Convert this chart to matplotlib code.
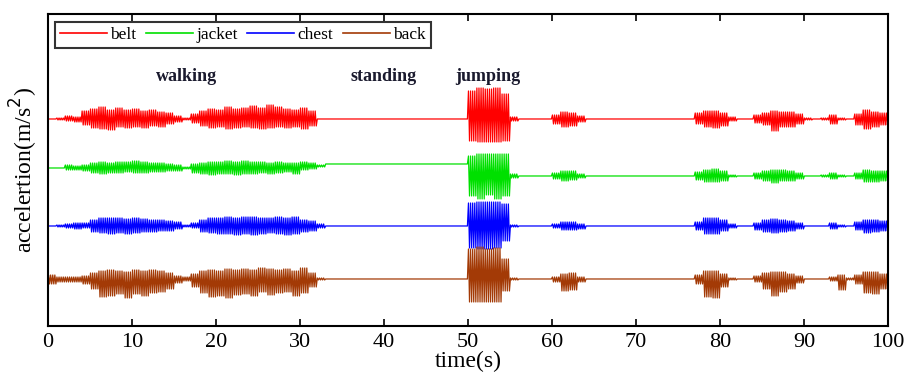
import numpy as np
import matplotlib
matplotlib.use("Agg")
import matplotlib.pyplot as plt

# ---- data: per-second envelope readings (upper / lower peak, 0.1 m/s^2 units) ----
seconds = list(range(100))
series_names = ["belt", "jacket", "chest", "back"]
series_colors = ["#ff0000", "#00e000", "#0000ff", "#a33a06"]

def expand(pairs):
    up = [0] * 100
    dn = [0] * 100
    for k, u, d in pairs:
        up[k] = u
        dn[k] = d
    return up, dn

belt_peaks = [
    (1,1,1),(2,3,2),(3,2,3),(4,8,6),(5,10,9),(6,12,10),(7,9,11),(8,11,8),(9,9,9),(10,10,8),
    (11,8,9),(12,9,7),(13,7,8),(14,6,5),(15,3,3),(16,1,1),(17,5,4),(18,8,7),(19,10,9),(20,9,8),
    (21,12,10),(22,10,9),(23,11,8),(24,13,9),(25,11,10),(26,14,9),(27,12,8),(28,10,9),(29,9,8),
    (30,11,10),(31,8,7),
    (50,28,22),(51,31,23),(52,30,23),(53,31,23),(54,25,22),(55,2,2),
    (60,4,5),(61,7,8),(62,6,7),(63,3,3),
    (77,6,5),(78,8,8),(79,8,9),(80,6,7),(81,2,2),
    (84,4,4),(85,6,6),(86,8,12),(87,7,8),(88,7,8),(89,5,5),(90,1,1),
    (92,1,1),(93,4,5),(94,1,1),(96,5,6),(97,9,10),(98,7,8),(99,6,6),
]
jacket_peaks = [
    (2,3,2),(3,2,2),(4,3,3),(5,5,5),(6,6,6),(7,5,5),(8,6,5),(9,6,4),(10,7,5),(11,6,5),(12,5,4),
    (13,5,4),(14,4,3),(15,3,3),(16,1,1),(17,4,5),(18,5,6),(19,6,7),(20,6,6),(21,7,6),(22,6,7),
    (23,7,6),(24,6,6),(25,6,5),(26,5,6),(27,6,5),(28,5,4),(29,5,6),(30,4,4),(31,3,3),(32,1,1),
    (50,20,20),(51,22,23),(52,22,19),(53,22,23),(54,22,20),(55,2,2),
    (60,3,3),(61,5,5),(62,5,4),(63,2,2),
    (77,4,4),(78,6,6),(79,7,6),(80,5,5),(81,1,1),
    (84,3,3),(85,5,5),(86,6,7),(87,6,5),(88,5,5),(89,3,3),
    (92,1,1),(93,3,3),(94,1,1),(96,3,3),(97,6,6),(98,5,6),(99,5,5),
]
chest_peaks = [
    (1,1,1),(2,2,2),(3,3,3),(4,3,2),(5,6,6),(6,8,7),(7,8,8),(8,8,7),(9,7,8),(10,8,7),(11,7,6),
    (12,6,6),(13,6,5),(14,5,5),(15,4,3),(16,1,1),(17,3,2),(18,6,6),(19,8,7),(20,8,8),(21,9,8),
    (22,8,9),(23,9,8),(24,9,9),(25,8,8),(26,8,7),(27,9,8),(28,8,9),(29,9,8),(30,6,6),(31,5,5),
    (32,2,2),
    (50,23,22),(51,24,23),(52,24,23),(53,24,22),(54,22,15),(55,1,1),
    (60,2,2),(61,4,4),(62,4,4),(63,2,3),
    (77,4,4),(78,8,8),(79,8,8),(80,6,5),(81,2,2),
    (84,3,4),(85,6,6),(86,7,7),(87,6,6),(88,5,5),(89,3,3),
    (93,3,3),(94,1,1),(96,4,4),(97,6,7),(98,6,6),(99,5,5),
]
back_peaks = [
    (0,4,5),(1,2,3),(2,2,3),(3,2,3),(4,3,5),(5,6,10),(6,8,18),(7,9,17),(8,8,15),(9,7,19),
    (10,9,15),(11,8,17),(12,9,14),(13,8,13),(14,6,10),(15,3,4),(16,2,2),(17,5,8),(18,8,14),
    (19,9,18),(20,8,17),(21,10,19),(22,9,16),(23,10,15),(24,9,17),(25,11,13),(26,10,16),
    (27,9,14),(28,10,13),(29,8,17),(30,11,14),(31,6,8),(32,1,1),
    (50,30,23),(51,32,23),(52,30,23),(53,31,23),(54,20,12),(55,1,1),
    (60,2,3),(61,5,12),(62,6,11),(63,2,3),
    (77,4,5),(78,8,18),(79,8,19),(80,5,8),(81,1,1),
    (84,3,3),(85,6,10),(86,7,17),(87,7,13),(88,5,10),(89,3,4),
    (93,2,2),(94,4,11),(95,1,1),(96,4,5),(97,7,14),(98,7,15),(99,5,10),
]
all_peaks = [belt_peaks, jacket_peaks, chest_peaks, back_peaks]

# baselines (trace offsets) per second
belt_base = [20.7] * 100
jacket_base = [15.8] * 30 + [16.0] * 3 + [16.2] * 17 + [15.0] * 50
chest_base = [10.0] * 100
back_base = [4.7] * 100
all_bases = [belt_base, jacket_base, chest_base, back_base]

activities = ["walking", "standing", "jumping"]
activity_t = [16.5, 40.0, 52.4]

xticks = [0, 10, 20, 30, 40, 50, 60, 70, 80, 90, 100]

# ---- plot ----
plt.rcParams["font.family"] = ["Liberation Serif", "DejaVu Serif"]
fig = plt.figure(figsize=(9.06, 3.75), dpi=100)
ax = fig.add_axes([0.053, 0.1307, 0.927, 0.832])

n_sub = 8
for name, col, peaks, base in zip(series_names, series_colors, all_peaks, all_bases):
    up, dn = expand(peaks)
    ts = [0.0]
    ys = [base[0]]
    for k in seconds:
        for j in range(n_sub):
            ts.append(k + (j + 0.5) / n_sub)
            if j % 2 == 0:
                ys.append(base[k] + up[k] / 10.0)
            else:
                ys.append(base[k] - dn[k] / 10.0)
    ts.append(100.0)
    ys.append(base[-1])
    ax.plot(ts, ys, color=col, lw=0.9, label=name)

for lab, t in zip(activities, activity_t):
    ax.text(t, 24.9, lab, ha="center", va="center", fontsize=13, fontweight="bold",
            color="#1a1a2e")

ax.set_xlim(0, 100)
ax.set_ylim(0, 31.2)
ax.set_xticks(xticks)
ax.set_yticks([])
ax.tick_params(axis="x", direction="in", top=True, length=5, width=1.2, labelsize=16, pad=5)
for s in ax.spines.values():
    s.set_linewidth(1.5)
ax.set_xlabel("time(s)", fontsize=17, labelpad=-1)
ax.set_ylabel("accelertion(m/s$^2$)", fontsize=17, labelpad=6)

leg = ax.legend(loc="upper left", ncol=4, fontsize=12.5, handlelength=2.7, handletextpad=0.2,
                columnspacing=0.55, frameon=True, fancybox=False, borderpad=0.3,
                bbox_to_anchor=(0.008, 0.975), borderaxespad=0.0)
leg.get_frame().set_edgecolor("black")
leg.get_frame().set_linewidth(1.5)
for h in leg.get_lines():
    h.set_linewidth(1.2)

fig.savefig("out.png", dpi=100)
